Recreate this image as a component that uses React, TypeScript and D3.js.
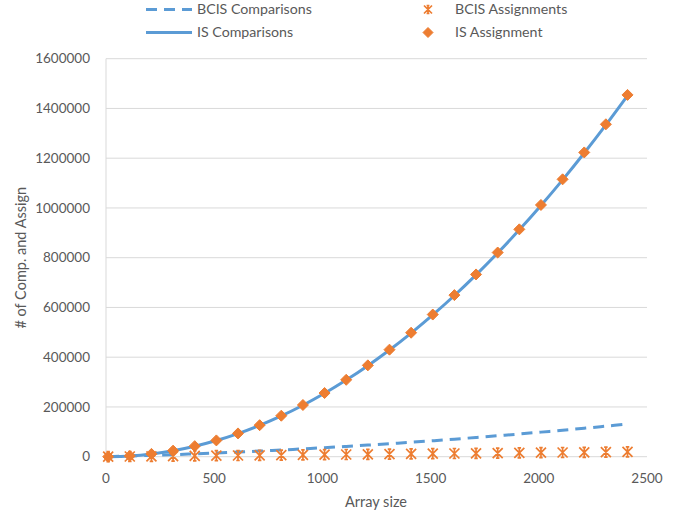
import React from "react";
import * as d3 from "d3";

const arraySizes = [10, 110, 210, 310, 410, 510, 610, 710, 810, 910, 1010, 1110, 1210, 1310, 1410, 1510, 1610, 1710, 1810, 1910, 2010, 2110, 2210, 2310, 2410];
const bcisComparisons = [230, 2650, 5300, 8300, 11500, 15000, 18700, 22700, 27000, 31500, 36300, 41400, 46700, 52300, 58100, 64200, 70600, 77300, 84200, 91300, 98800, 106500, 114400, 122700, 131100];
const bcisAssignments = [80, 900, 1700, 2500, 3300, 4100, 4900, 5700, 6500, 7300, 8100, 8900, 9700, 10500, 11300, 12100, 12900, 13700, 14500, 15300, 16100, 16900, 17700, 18500, 19300];
const isComparisons = [25, 3000, 11000, 24000, 42000, 65000, 93000, 126000, 164000, 207000, 255000, 308000, 366000, 429000, 497000, 570000, 648000, 731000, 819000, 912000, 1010000, 1113000, 1221000, 1334000, 1452000];
const isAssignment = [40, 3200, 11300, 24300, 42400, 65500, 93600, 126700, 164800, 207900, 256000, 309100, 367200, 430300, 498400, 571500, 649600, 732700, 820800, 913900, 1012000, 1115100, 1223200, 1336300, 1454400];
const xTicks = [0, 500, 1000, 1500, 2000, 2500];
const yTicks = [0, 200000, 400000, 600000, 800000, 1000000, 1200000, 1400000, 1600000];

const BLUE = "#5B9BD5";
const ORANGE = "#ED7D31";
const GRID = "#D9D9D9";
const TEXT = "#595959";
const FONT = "Lato, 'Open Sans', sans-serif";

function Star({ x, y, s = 5 }: { x: number; y: number; s?: number }) {
  const b = s * 0.35;
  return (
    <path
      d={`M${x - s},${y - s}L${x + s},${y + s}M${x - s},${y + s}L${x + s},${y - s}M${x},${y - s}L${x},${y + s}M${x - b},${y - s}L${x + b},${y - s}M${x - b},${y + s}L${x + b},${y + s}`}
      stroke={ORANGE}
      strokeWidth={1.7}
      fill="none"
    />
  );
}

function Diamond({ x, y, s = 5.5 }: { x: number; y: number; s?: number }) {
  return <path d={`M${x},${y - s}L${x + s},${y}L${x},${y + s}L${x - s},${y}Z`} fill={ORANGE} stroke={ORANGE} strokeWidth={1} />;
}

export default function App() {
  const W = 686, H = 515;
  const x = d3.scaleLinear().domain([0, 2500]).range([106, 647]);
  const y = d3.scaleLinear().domain([0, 1600000]).range([456.7, 58.7]);

  const line = d3.line<number>().x((_, i) => x(arraySizes[i])).y((d) => y(d)).curve(d3.curveCatmullRom);

  return (
    <svg width={W} height={H} style={{ position: "absolute", left: 0, top: 0, background: "#fff" }} fontFamily={FONT}>
      <rect width={W} height={H} fill="#fff" />
      {yTicks.map((t) => (
        <line key={t} x1={x(0)} x2={x(2500)} y1={y(t)} y2={y(t)} stroke={GRID} strokeWidth={1} />
      ))}
      <line x1={x(0)} x2={x(0)} y1={y(0)} y2={y(1600000)} stroke={GRID} strokeWidth={1} />
      {yTicks.map((t) => (
        <text key={t} x={90} y={y(t)} dy="0.35em" textAnchor="end" fontSize={13.5} fill={TEXT}>
          {t}
        </text>
      ))}
      {xTicks.map((t) => (
        <text key={t} x={x(t)} y={478} dy="0.35em" textAnchor="middle" fontSize={13.5} fill={TEXT}>
          {t}
        </text>
      ))}
      <text x={376} y={502} dy="0.35em" textAnchor="middle" fontSize={14.5} fill={TEXT}>Array size</text>
      <text transform={`translate(21,${(y(0) + y(1600000)) / 2}) rotate(-90)`} dy="0.35em" textAnchor="middle" fontSize={14.5} fill={TEXT}>
        # of Comp. and Assign
      </text>

      <path d={line(bcisComparisons) || ""} fill="none" stroke={BLUE} strokeWidth={3} strokeDasharray="11 7" />
      {bcisAssignments.map((v, i) => (
        <Star key={i} x={x(arraySizes[i])} y={y(v)} />
      ))}
      <path d={line(isComparisons) || ""} fill="none" stroke={BLUE} strokeWidth={3} />
      {isAssignment.map((v, i) => (
        <Diamond key={i} x={x(arraySizes[i])} y={y(v)} />
      ))}

      <line x1={146} x2={192} y1={9.5} y2={9.5} stroke={BLUE} strokeWidth={3} strokeDasharray="11 7" />
      <text x={197} y={9.5} dy="0.35em" fontSize={14.2} fill={TEXT}>BCIS Comparisons</text>
      <line x1={146} x2={192} y1={32.5} y2={32.5} stroke={BLUE} strokeWidth={3} />
      <text x={197} y={32.5} dy="0.35em" fontSize={14.2} fill={TEXT}>IS Comparisons</text>
      <Star x={428} y={9.5} s={4} />
      <text x={455} y={9.5} dy="0.35em" fontSize={14.2} fill={TEXT}>BCIS Assignments</text>
      <Diamond x={428} y={32.5} s={5} />
      <text x={455} y={32.5} dy="0.35em" fontSize={14.2} fill={TEXT}>IS Assignment</text>
    </svg>
  );
}
